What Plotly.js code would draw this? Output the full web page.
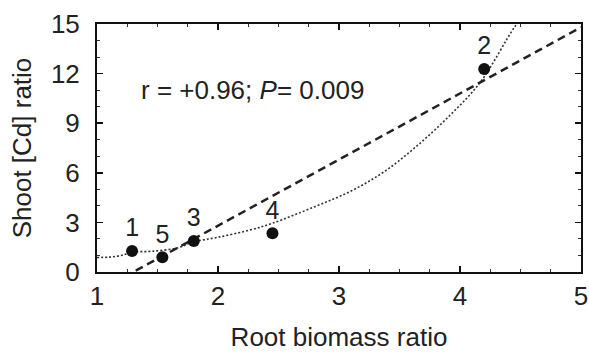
<!DOCTYPE html>
<html>
<head>
<meta charset="utf-8">
<script src="https://cdn.plot.ly/plotly-3.0.1.min.js"></script>
<style>html,body{margin:0;padding:0;background:#fff;}#chart{width:589px;height:358px;}</style>
</head>
<body>
<div id="chart"></div>
<script>
// Data points (root biomass ratio vs shoot [Cd] ratio)
var pointLabels = ["1", "2", "3", "4", "5"];
var rootRatio   = [1.29, 4.20, 1.80, 2.45, 1.54];
var shootRatio  = [1.27, 12.28, 1.87, 2.34, 0.89];

// Linear fit (dashed)
var linX = [1.32, 5.0];
var linY = [0.08, 14.8];

// Curved fit (dotted)
var curveX = [1.0, 1.1, 1.2, 1.3, 1.45, 1.66, 1.8, 2.0, 2.27, 2.45, 2.8, 3.1, 3.37, 3.64, 3.92, 4.17, 4.45, 4.52];
var curveY = [0.88, 0.9, 1.0, 1.2, 1.25, 1.45, 1.82, 2.1, 2.55, 2.95, 3.95, 4.9, 6.05, 7.6, 9.5, 11.5, 14.8, 15.4];

var xTicks = [1, 2, 3, 4, 5];
var yTicks = [0, 3, 6, 9, 12, 15];
var statText = "r = +0.96; <i>P</i>= 0.009";

var font = "Liberation Sans, Arial, sans-serif";

var traces = [
  {x: curveX, y: curveY, mode: "lines", line: {color: "#333", width: 1.6, dash: "2px,2px", shape: "spline"}, hoverinfo: "skip"},
  {x: linX, y: linY, mode: "lines", line: {color: "#222", width: 2.5, dash: "8px,5px"}, hoverinfo: "skip"},
  {x: rootRatio, y: shootRatio, mode: "markers+text", text: pointLabels, textposition: "top center",
   textfont: {family: font, size: 25, color: "#222"},
   marker: {color: "#111", size: 12}, cliponaxis: false}
];

var layout = {
  width: 589, height: 358,
  margin: {l: 97, r: 8, t: 24, b: 86},
  paper_bgcolor: "#fff", plot_bgcolor: "#fff",
  showlegend: false,
  font: {family: font, size: 26, color: "#222"},
  xaxis: {
    range: [1, 5], tickvals: xTicks, ticktext: xTicks.map(String),
    showgrid: false, zeroline: false, showline: true, linecolor: "#111", linewidth: 2, mirror: "ticks",
    ticks: "inside", ticklen: 6, tickwidth: 1.5, tickcolor: "#111",
    minor: {dtick: 0.25, ticks: "inside", ticklen: 3, tickwidth: 1, tickcolor: "#333", showgrid: false},
    tickfont: {family: font, size: 26, color: "#222"},
    title: {text: "Root biomass ratio", font: {family: font, size: 26, color: "#222"}, standoff: 18}
  },
  yaxis: {
    range: [0, 15], tickvals: yTicks, ticktext: yTicks.map(String),
    showgrid: false, zeroline: false, showline: true, linecolor: "#111", linewidth: 2, mirror: "ticks",
    ticks: "inside", ticklen: 6, tickwidth: 1.5, tickcolor: "#111",
    ticklabelstandoff: 10,
    minor: {dtick: 1, ticks: "inside", ticklen: 3, tickwidth: 1, tickcolor: "#333", showgrid: false},
    tickfont: {family: font, size: 26, color: "#222"},
    title: {text: "Shoot [Cd] ratio", font: {family: font, size: 26, color: "#222"}, standoff: 12}
  },
  annotations: [{
    xref: "paper", yref: "paper", x: (252 - 97) / 484, y: (272 - 90) / 248,
    text: statText, showarrow: false, xanchor: "center", yanchor: "middle",
    font: {family: font, size: 26, color: "#222"}
  }]
};

Plotly.newPlot("chart", traces, layout, {staticPlot: true, displayModeBar: false});
</script>
</body>
</html>
